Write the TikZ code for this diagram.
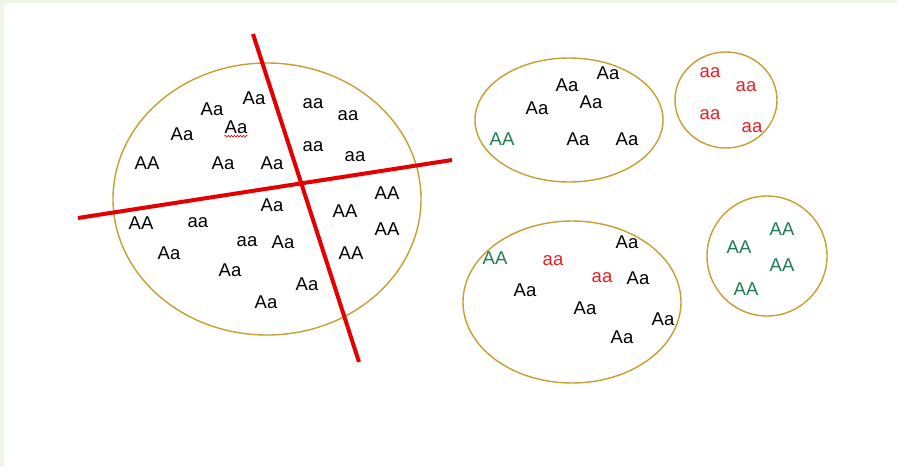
\documentclass[tikz,border=0pt]{standalone}
\usepackage{fontspec}
\setmainfont{Liberation Sans}
\usetikzlibrary{decorations.pathmorphing}
\definecolor{gold}{RGB}{196,160,50}
\definecolor{cut}{RGB}{228,0,0}
\definecolor{gr}{RGB}{30,125,80}
\definecolor{rt}{RGB}{232,30,40}
\definecolor{bg}{RGB}{238,246,232}
\begin{document}
\begin{tikzpicture}[x=1pt,y=-1pt,
  lbl/.style={font=\fontsize{18.5}{20}\selectfont, inner sep=0pt, text=black},
  grn/.style={lbl, text=gr},
  red/.style={lbl, text=rt},
  ring/.style={draw=gold, line width=1.4pt},
  cutline/.style={draw=cut, line width=4pt}]
\useasboundingbox (0,0) rectangle (897,466);
\fill[bg] (0,0) rectangle (897,466);
\fill[white] (4,3) rectangle (897,466);

% big ellipse
\draw[ring] (267,199) ellipse [x radius=154pt, y radius=136pt];
\node[lbl] (b1) at (254,98) {Aa};
\node[lbl] (b2) at (212,109) {Aa};
\node[lbl] (b3) at (182,134) {Aa};
\node[lbl] (b4) at (236,127) {Aa};
\node[lbl] (b5) at (147,163) {AA};
\node[lbl] (b6) at (223,163) {Aa};
\node[lbl] (b7) at (272,163) {Aa};
\node[lbl] (b8) at (313,104) {aa};
\node[lbl] (b9) at (348,116) {aa};
\node[lbl] (b10) at (313,147) {aa};
\node[lbl] (b11) at (355,157) {aa};
\node[lbl] (b12) at (387,193) {AA};
\node[lbl] (b13) at (345,211) {AA};
\node[lbl] (b14) at (387,229) {AA};
\node[lbl] (b15) at (351,253) {AA};
\node[lbl] (b16) at (272,205) {Aa};
\node[lbl] (b17) at (141,223) {AA};
\node[lbl] (b18) at (198,223) {aa};
\node[lbl] (b19) at (247,242) {aa};
\node[lbl] (b20) at (283,242) {Aa};
\node[lbl] (b21) at (169,253) {Aa};
\node[lbl] (b22) at (230,270) {Aa};
\node[lbl] (b23) at (307,284) {Aa};
\node[lbl] (b24) at (266,302) {Aa};
\draw[cut, line width=0.6pt, decorate, decoration={snake, amplitude=0.9pt, segment length=3pt}]
  ([yshift=-2.5pt]b4.south west) -- ([yshift=-2.5pt]b4.south east);

% cutting lines
\coordinate (c1a) at (253,34);
\coordinate (c1b) at (359,362);
\coordinate (c2a) at (78,218);
\coordinate (c2b) at (452,160);
\draw[cutline] (c1a) -- (c1b);
\draw[cutline] (c2a) -- (c2b);

% top middle ellipse
\draw[ring] (569,120) ellipse [x radius=94pt, y radius=62pt];
\node[lbl] (m1) at (608,73) {Aa};
\node[lbl] (m2) at (567,85) {Aa};
\node[lbl] (m3) at (591,102) {Aa};
\node[lbl] (m4) at (537,108) {Aa};
\node[grn] (m5) at (502,139) {AA};
\node[lbl] (m6) at (578,139) {Aa};
\node[lbl] (m7) at (627,139) {Aa};

% top right circle
\draw[ring] (726,100) ellipse [x radius=51pt, y radius=48pt];
\node[red] (r1) at (710,73) {aa};
\node[red] (r2) at (746,87) {aa};
\node[red] (r3) at (710,115) {aa};
\node[red] (r4) at (752,128) {aa};

% bottom middle ellipse
\draw[ring] (572,302) ellipse [x radius=109pt, y radius=81pt];
\node[grn] (n1) at (495,258) {AA};
\node[red] (n2) at (553,261) {aa};
\node[lbl] (n3) at (627,242) {Aa};
\node[red] (n4) at (602,278) {aa};
\node[lbl] (n5) at (638,278) {Aa};
\node[lbl] (n6) at (525,290) {Aa};
\node[lbl] (n7) at (585,308) {Aa};
\node[lbl] (n8) at (663,319) {Aa};
\node[lbl] (n9) at (622,337) {Aa};

% bottom right circle
\begin{scope}
\clip (690,180) rectangle (829,330);
\draw[ring] (767,256) ellipse [x radius=60pt, y radius=60pt];
\end{scope}
\node[grn] (g1) at (782,229) {AA};
\node[grn] (g2) at (739,247) {AA};
\node[grn] (g3) at (782,265) {AA};
\node[grn] (g4) at (746,289) {AA};
\end{tikzpicture}
\end{document}
